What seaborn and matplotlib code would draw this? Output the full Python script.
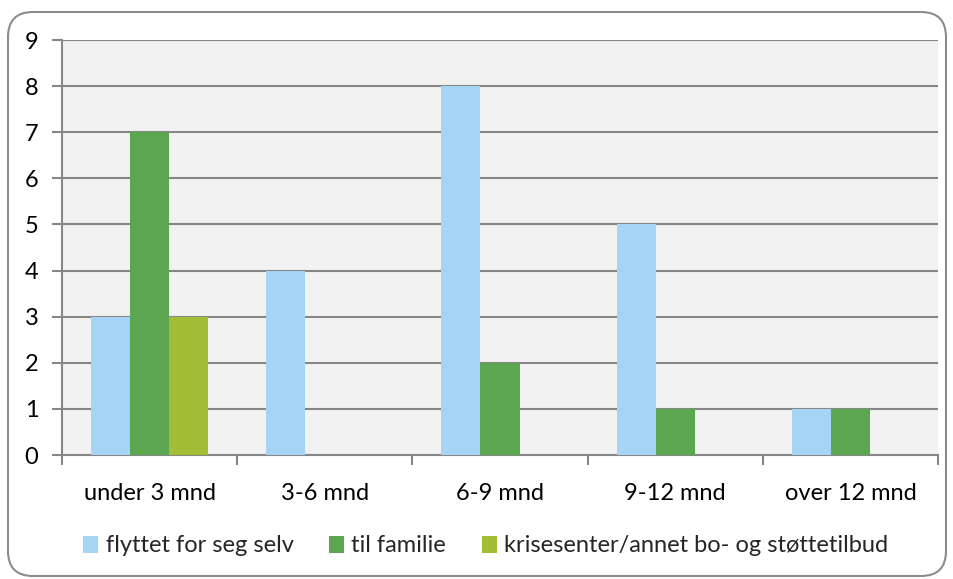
import pandas as pd
import matplotlib.pyplot as plt
import seaborn as sns
from matplotlib.patches import FancyBboxPatch, Patch

categories = ['under 3 mnd', '3-6 mnd', '6-9 mnd', '9-12 mnd', 'over 12 mnd']
series_names = ['flyttet for seg selv', 'til familie', 'krisesenter/annet bo- og støttetilbud']
flyttet = [3, 4, 8, 5, 1]
familie = [7, 0, 2, 1, 1]
krise = [3, 0, 0, 0, 0]
colors = ['#A6D4F5', '#5CA551', '#A1BE36']

rows = []
for name, vals in zip(series_names, [flyttet, familie, krise]):
    for cat, v in zip(categories, vals):
        rows.append({'kategori': cat, 'serie': name, 'antall': v})
df = pd.DataFrame(rows)

sns.set_theme(style="white")
plt.rcParams['font.family'] = ['Lato', 'DejaVu Sans']

fig = plt.figure(figsize=(9.54, 5.79), dpi=100)
ax = fig.add_axes([62 / 954, 1 - 455 / 579, 876 / 954, 415 / 579])

# rounded outer frame (inch coordinates)
frame = FancyBboxPatch((0.08, 0.03), 9.38, 5.64,
                       boxstyle="round,pad=0,rounding_size=0.25",
                       transform=fig.dpi_scale_trans, facecolor='none',
                       edgecolor='#8C8C8C', linewidth=1.5, zorder=0)
fig.patches.append(frame)

sns.barplot(data=df, x='kategori', y='antall', hue='serie', palette=colors,
            width=0.67, saturation=1, ax=ax, legend=False, zorder=3,
            linewidth=0)

ax.set_facecolor('#F2F2F2')
ax.set_xlim(-0.5, 4.5)
ax.set_ylim(0, 9)
ax.set_yticks(range(0, 10))
ax.yaxis.grid(True, color='#868686', linewidth=1.5, zorder=1)
ax.set_axisbelow(True)
ax.set_xlabel('')
ax.set_ylabel('')

for side in ['top', 'right']:
    ax.spines[side].set_visible(False)
for side in ['left', 'bottom']:
    ax.spines[side].set_color('#868686')
    ax.spines[side].set_linewidth(1.5)

ax.tick_params(axis='y', left=True, length=7, width=1.5, color='#868686',
               labelsize=17, pad=10, labelcolor='black')
# x ticks at category boundaries, labels centred
ax.set_xticks([i - 0.5 for i in range(6)], minor=True)
ax.set_xticks(range(5))
ax.set_xticklabels(categories)
ax.tick_params(axis='x', which='major', bottom=False, length=0, labelsize=17,
               pad=20, labelcolor='black')
ax.tick_params(axis='x', which='minor', bottom=True, length=7, width=1.5,
               color='#868686')

handles = [Patch(facecolor=c, edgecolor='none') for c in colors]
fig.legend(handles, series_names, loc='center', bbox_to_anchor=(0.509, 1 - 546 / 579),
           ncol=3, frameon=False, fontsize=17, handlelength=0.65, handleheight=0.75,
           handletextpad=0.3, columnspacing=1.5)

fig.savefig('out.png', dpi=100)
